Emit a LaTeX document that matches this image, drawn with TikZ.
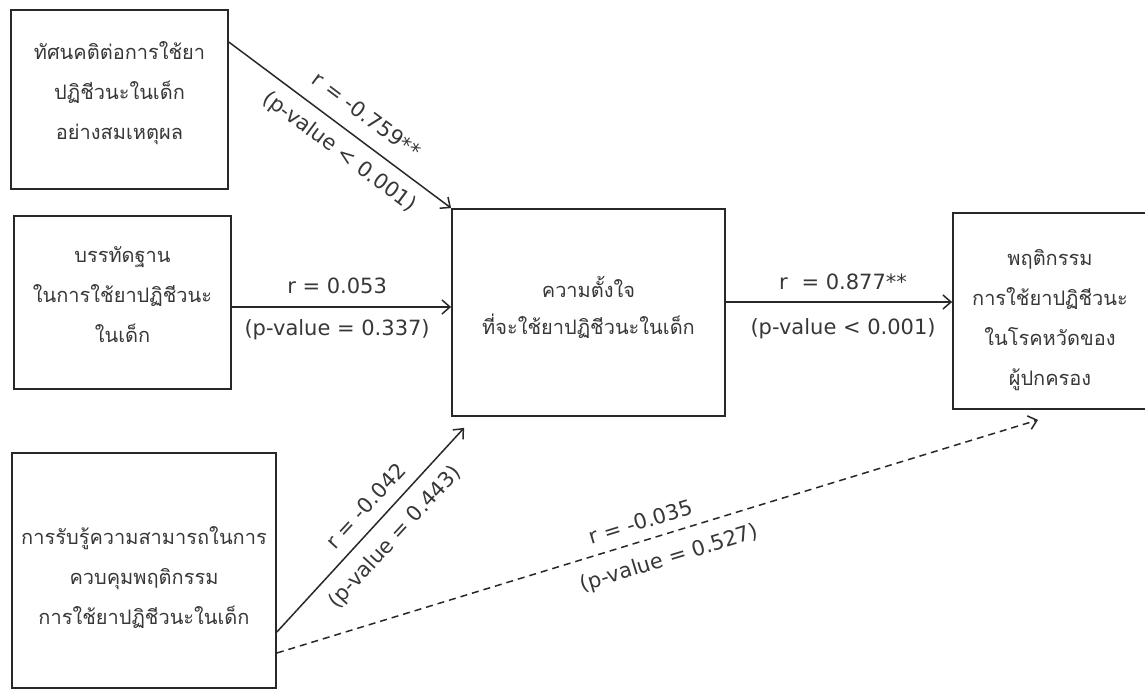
\documentclass[tikz,border=0pt]{standalone}
\usepackage{fontspec}
\setmainfont{DejaVu Sans}
\newfontfamily\thaifont[Script=Thai]{Loma}
\usetikzlibrary{arrows.meta,calc}
\definecolor{boxc}{RGB}{40,40,40}
\definecolor{linec}{RGB}{40,40,40}
\definecolor{txtc}{RGB}{55,55,55}
\begin{document}
\begin{tikzpicture}[x=1pt,y=1pt,
  box/.style={draw=boxc, line width=1.8pt, rectangle, inner sep=0pt},
  boxtext/.style={inner sep=0pt, align=center,
    font=\thaifont\fontsize{20}{40}\selectfont, text=txtc},
  conn/.style={draw=linec, line width=1.5pt, -{Straight Barb[length=8pt,width=14pt]}},
  lbl/.style={font=\fontsize{21}{25}\selectfont, text=txtc, inner sep=0pt, sloped, anchor=center}]
\useasboundingbox (0,0) rectangle (1145,697);
\node[box, minimum width=217pt, minimum height=179pt] (b1) at (119.5,597.5) {};
\node[box, minimum width=217pt, minimum height=173pt] (b2) at (122.5,394.5) {};
\node[box, minimum width=264pt, minimum height=235pt] (b3) at (144,126.5) {};
\node[box, minimum width=273pt, minimum height=207pt] (bc) at (588.5,384.5) {};
\node[box, minimum width=194pt, minimum height=196pt] (br) at (1050,386) {};
\node[boxtext] (t1) at ($(b1.center)+(0,6.5)$)
  {ทัศนคติต่อการใช้ยา\\ปฏิชีวนะในเด็ก\\อย่างสมเหตุผล};
\node[boxtext] (t2) at ($(b2.center)+(0,8)$)
  {บรรทัดฐาน\\ในการใช้ยาปฏิชีวนะ\\ในเด็ก};
\node[boxtext] (t3) at ($(b3.center)+(0,-7)$)
  {การรับรู้ความสามารถในการ\\ควบคุมพฤติกรรม\\การใช้ยาปฏิชีวนะในเด็ก};
\node[boxtext, font=\thaifont\fontsize{20}{37}\selectfont] (tc) at ($(bc.center)+(0,5)$)
  {ความตั้งใจ\\ที่จะใช้ยาปฏิชีวนะในเด็ก};
\node[boxtext] (tr) at ($(br.center)+(0,-9)$)
  {พฤติกรรม\\การใช้ยาปฏิชีวนะ\\ในโรคหวัดของ\\ผู้ปกครอง};
\coordinate (a1s) at ($(b1.north east)+(0,-33)$);
\coordinate (a2s) at ($(b2.east)+(0,-4.5)$);
\coordinate (a3s) at ($(b3.east)+(0,-61.5)$);
\coordinate (a3e) at ($(bc.south west)+(13,-11)$);
\coordinate (a4s) at ($(bc.east)+(0,10.5)$);
\coordinate (a5s) at ($(b3.east)+(0,-82.5)$);
\coordinate (a5e) at ($(br.south)+(-12,-10)$);
\draw[conn] (a1s) -- (bc.north west)
  node[lbl,pos=0.556,yshift=24pt]{r = -0.759**}
  node[lbl,pos=0.556,yshift=-22pt]{(p-value < 0.001)};
\draw[conn] (a2s) -- (a2s -| bc.west)
  node[lbl,pos=0.48,yshift=21pt]{r = 0.053}
  node[lbl,pos=0.48,yshift=-23pt]{(p-value = 0.337)};
\draw[conn] (a3s) -- (a3e)
  node[lbl,pos=0.553,yshift=20pt]{r = -0.042}
  node[lbl,pos=0.54,yshift=-23.5pt]{(p-value = 0.443)};
\draw[conn] (a4s) -- (a4s -| br.west)
  node[lbl,pos=0.518,yshift=20pt]{r\,\, = 0.877**}
  node[lbl,pos=0.518,yshift=-27pt]{(p-value < 0.001)};
\draw[conn, dash pattern=on 7pt off 5pt] (a5s) -- (a5e)
  node[lbl,pos=0.485,yshift=19pt]{r = -0.035}
  node[lbl,pos=0.506,yshift=-25pt]{(p-value = 0.527)};
\end{tikzpicture}
\end{document}
